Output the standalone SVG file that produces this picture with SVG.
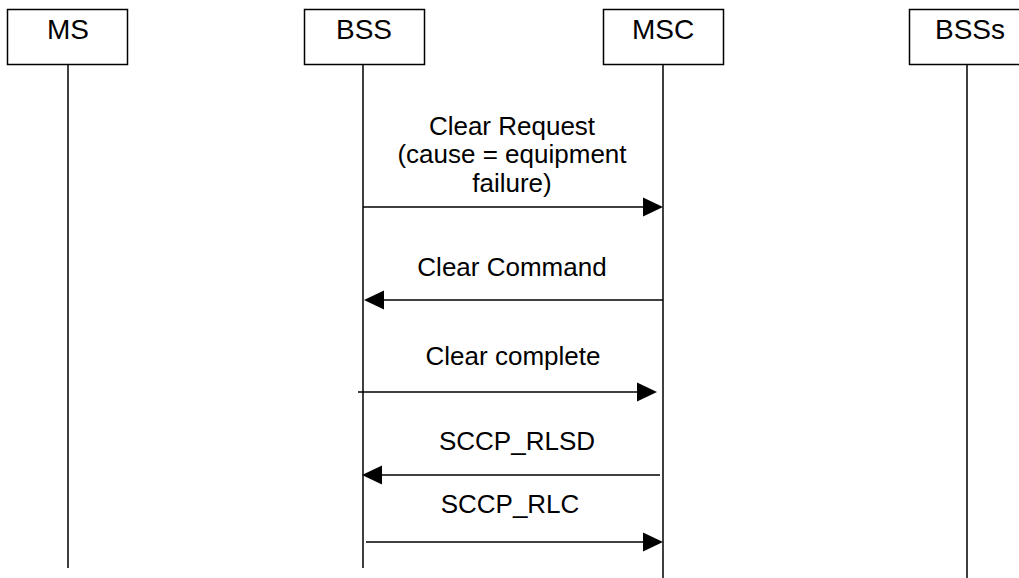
<svg xmlns="http://www.w3.org/2000/svg" width="1019" height="578" viewBox="0 0 1019 578">
<style>
.box{fill:#fff;stroke:#000;stroke-width:1.5}
.life{stroke:#000;stroke-width:1.5;fill:none}
.msg{stroke:#000;stroke-width:1.5;fill:none}
.head{fill:#000;stroke:none}
text{font-family:"Liberation Sans",Arial,sans-serif;font-size:26px;fill:#000;text-anchor:middle}
.lbl{font-size:28px}
</style>
<rect width="1019" height="578" fill="#fff"/>
<g id="node-MS">
<rect class="box" x="7.5" y="9.5" width="120" height="55"/>
<text class="lbl" x="68" y="39">MS</text>
<line class="life" x1="68" y1="64" x2="68" y2="568"/>
</g>
<g id="node-BSS">
<rect class="box" x="304.5" y="9.5" width="120" height="55"/>
<text class="lbl" x="364" y="39">BSS</text>
<line class="life" x1="363" y1="64" x2="363" y2="568"/>
</g>
<g id="node-MSC">
<rect class="box" x="603.5" y="9.5" width="120" height="55"/>
<text class="lbl" x="663" y="39">MSC</text>
<line class="life" x1="663" y1="64" x2="663" y2="578"/>
</g>
<g id="node-BSSs">
<rect class="box" x="909.5" y="9.5" width="121" height="55"/>
<text class="lbl" x="970" y="39">BSSs</text>
<line class="life" x1="967" y1="64" x2="967" y2="578"/>
</g>
<g id="connectors">
<line class="msg" x1="363" y1="207" x2="645" y2="207"/>
<polygon class="head" points="663,207 643,197.5 643,216.5"/>
<text x="512" y="135">Clear Request</text>
<text x="512" y="163">(cause = equipment</text>
<text x="512" y="192">failure)</text>

<line class="msg" x1="663" y1="300" x2="382" y2="300"/>
<polygon class="head" points="364,300 384,290.5 384,309.5"/>
<text x="512" y="276">Clear Command</text>

<line class="msg" x1="358" y1="392" x2="640" y2="392"/>
<polygon class="head" points="657,392 637,382.5 637,401.5"/>
<text x="513" y="365">Clear complete</text>

<line class="msg" x1="660" y1="475" x2="380" y2="475"/>
<polygon class="head" points="362,475 382,465.5 382,484.5"/>
<text x="517" y="450">SCCP_RLSD</text>

<line class="msg" x1="366" y1="542" x2="645" y2="542"/>
<polygon class="head" points="663,542 643,532.5 643,551.5"/>
<text x="510" y="513">SCCP_RLC</text>
</g>
</svg>
